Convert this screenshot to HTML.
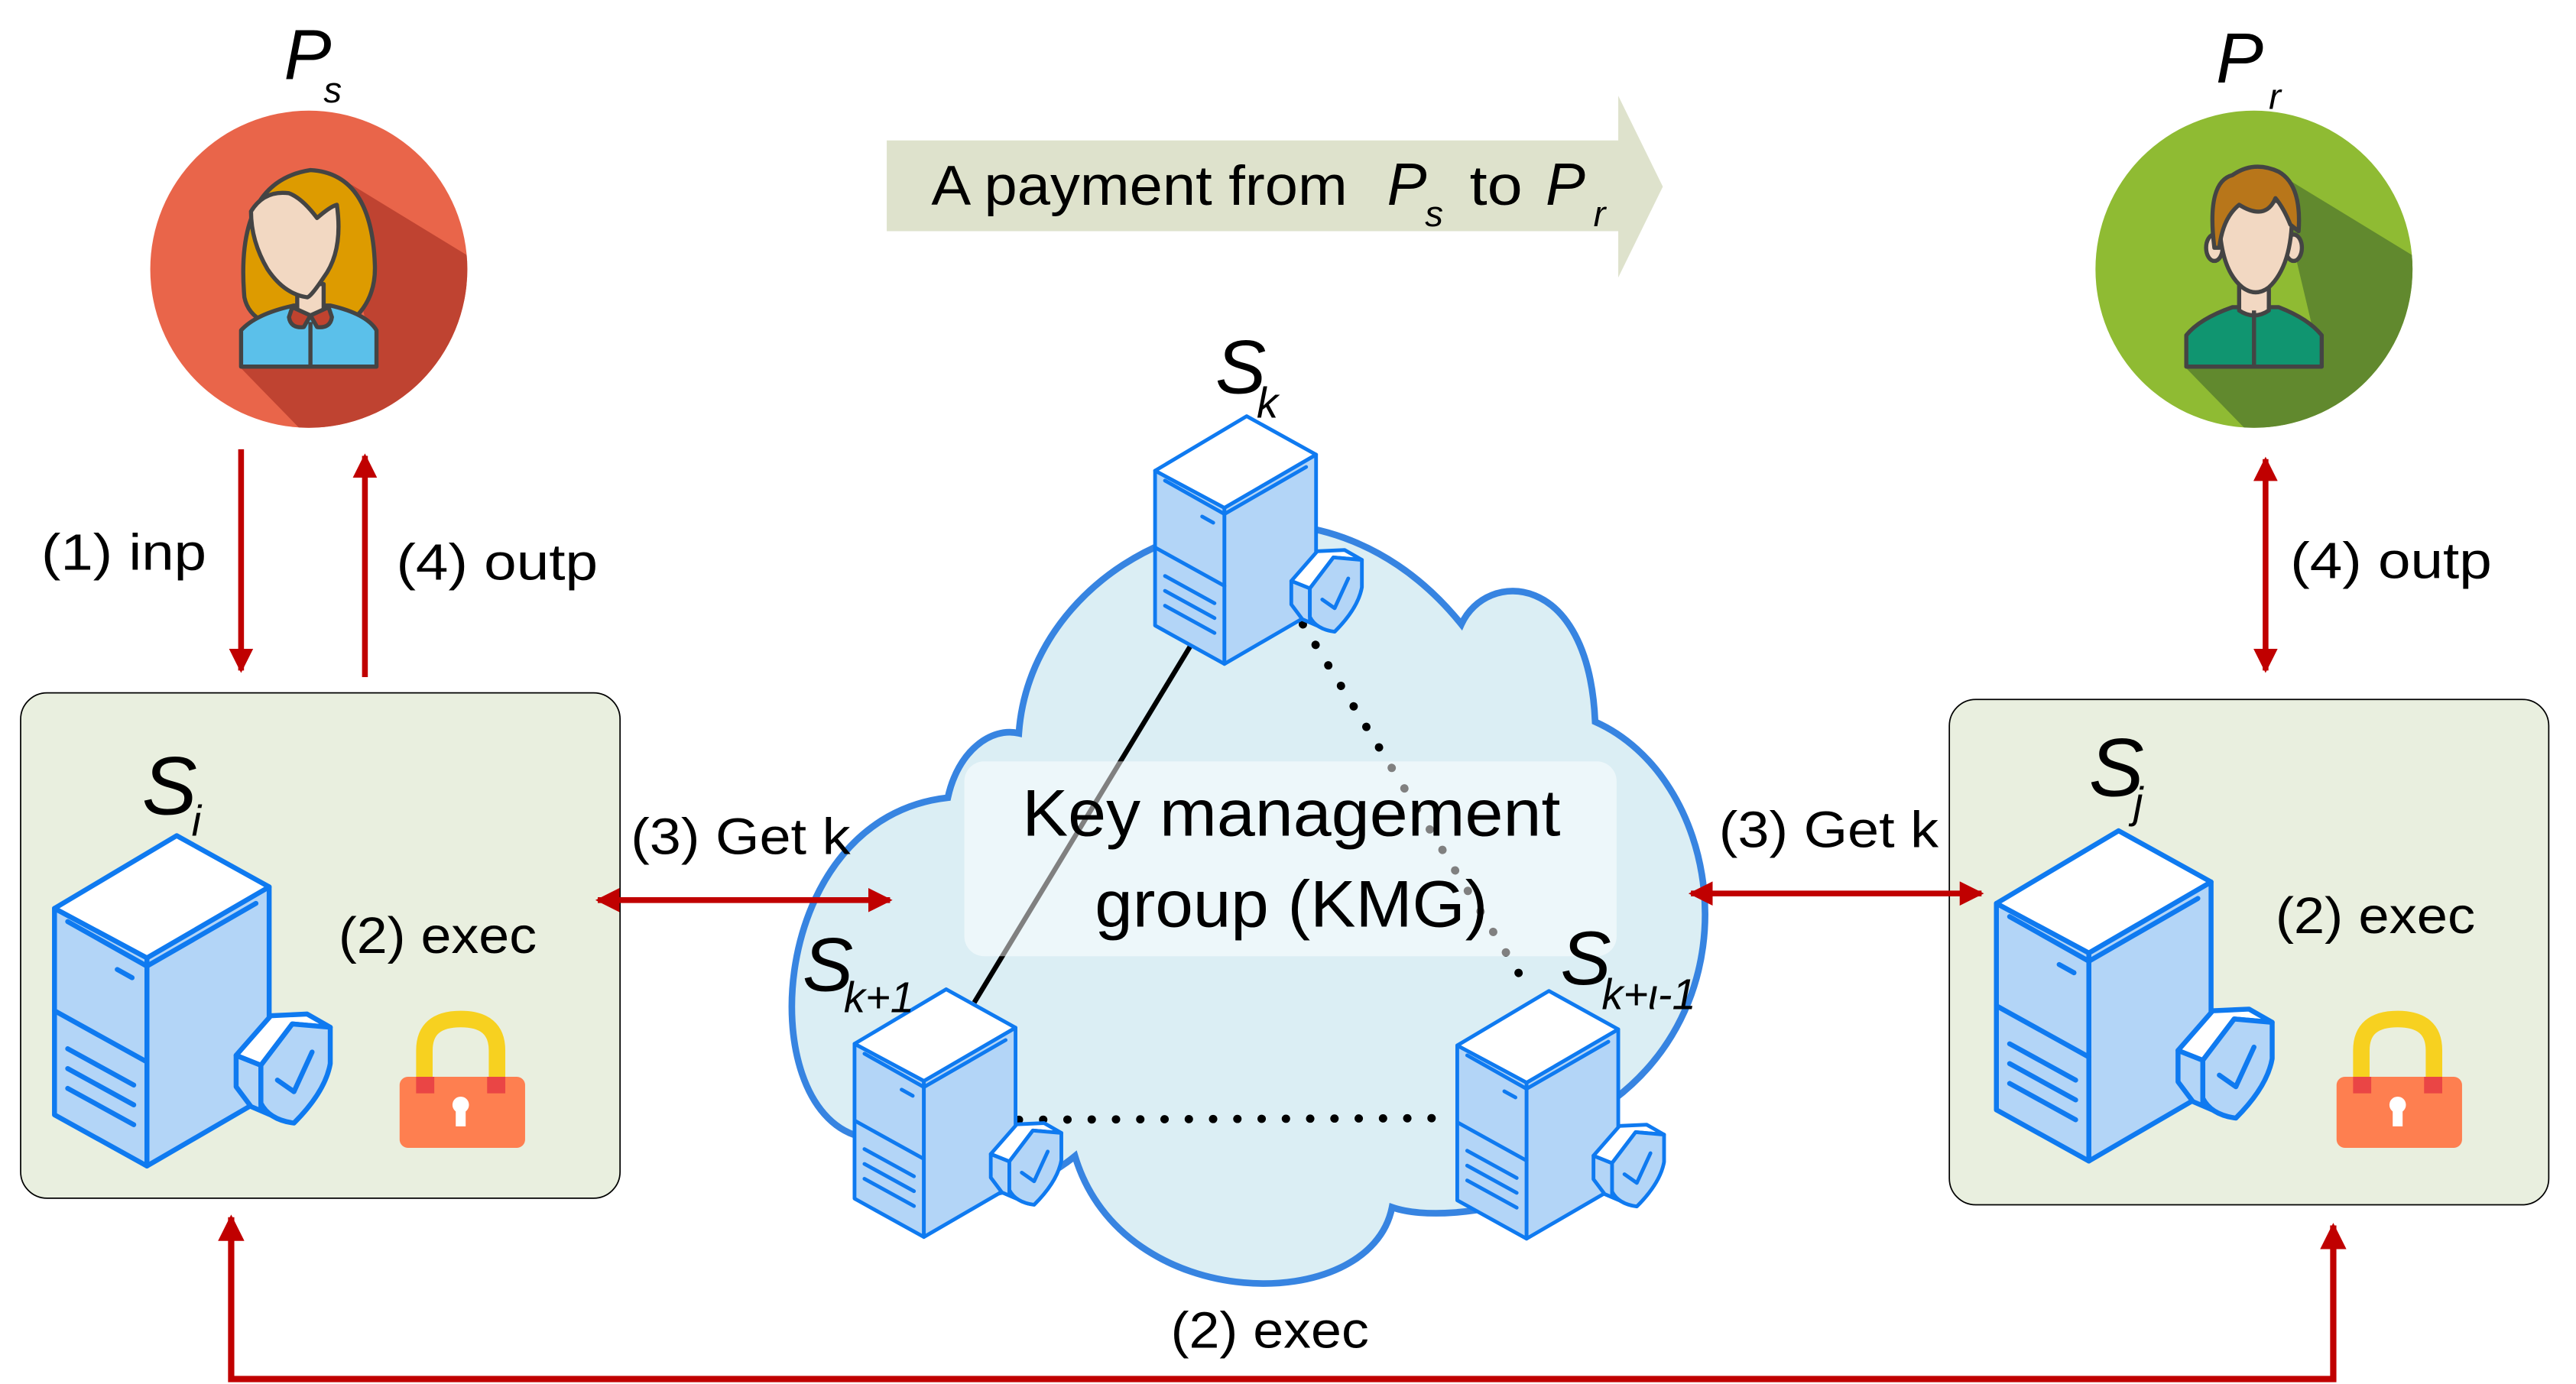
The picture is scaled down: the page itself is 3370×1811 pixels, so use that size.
<!DOCTYPE html>
<html><head><meta charset="utf-8"><style>
html,body{margin:0;padding:0;background:#fff;}
svg{display:block;}
text{font-family:"Liberation Sans",sans-serif;fill:#000;}
.it{font-style:italic;}
</style></head><body>
<svg width="3370" height="1811" viewBox="0 0 1560 838" preserveAspectRatio="none" xmlns="http://www.w3.org/2000/svg">
<defs>
<g id="srv" stroke="#0f7af0" stroke-width="3" stroke-linejoin="round" stroke-linecap="round">
  <polygon points="-74,44 -18,74 -18,200 -74,169" fill="#b3d5f7"/>
  <polygon points="-18,74 56,31 56,157 -18,200" fill="#b3d5f7"/>
  <polygon points="0,0 56,31 -18,74 -74,44" fill="#fff"/>
  <line x1="-66" y1="52" x2="-18" y2="79" fill="none"/>
  <line x1="-18" y1="79" x2="48" y2="41" fill="none"/>
  <line x1="-74" y1="106" x2="-18" y2="137" fill="none"/>
  <line x1="-36" y1="81" x2="-27" y2="86" fill="none"/>
  <line x1="-66" y1="129" x2="-26" y2="151" fill="none"/>
  <line x1="-66" y1="141" x2="-26" y2="163" fill="none"/>
  <line x1="-66" y1="153" x2="-26" y2="175" fill="none"/>
  <polygon points="36,133 51,139 51,165 66,173 45,164 36,152" fill="#b3d5f7"/>
  <polygon points="36,133 57,109 79,108 93,116 70,114 51,139" fill="#fff"/>
  <path d="M70,114 L93,116 L93,138 Q90,155 71,174 Q56,172 51,162 L51,139 Z" fill="#b3d5f7"/>
  <polyline points="61,148 71,155 82,131" fill="none"/>
</g>
<marker id="ah" viewBox="0 0 10 10" refX="9" refY="5" markerWidth="4.2" markerHeight="4.2" orient="auto-start-reverse" markerUnits="strokeWidth">
  <path d="M0,0 L10,5 L0,10 Z" fill="#c00000"/>
</marker>
<clipPath id="cps"><circle cx="187" cy="163" r="96"/></clipPath>
<clipPath id="cpr"><circle cx="1365" cy="163" r="96"/></clipPath>
</defs>

<!-- Ps -->
<circle cx="187" cy="163" r="96" fill="#e9654a"/>
<polygon clip-path="url(#cps)" points="200,104 300,165 300,300 184,262 146,223 228,222" fill="#bf4331"/>
<g stroke="#444" stroke-width="2.5" stroke-linejoin="round">
  <path d="M148,180 Q142,110 188,103 Q225,105 227,160 Q228,182 212,195 L160,195 Q150,190 148,180Z" fill="#dd9b00"/>
  <path d="M146,222 L146,200 Q155,190 178,185 L200,185 Q222,190 228,200 L228,222 Z" fill="#5bc0ea"/>
  <path d="M180,172 L180,188 Q188,194 196,188 L196,172 Z" fill="#f2d8c2"/>
  <path d="M152,128 Q160,115 175,117 Q183,120 192,132 Q200,125 204,124 Q208,152 196,168 Q188,180 186,180 Q172,178 162,163 Q152,146 152,128 Z" fill="#f2d8c2"/>
  <path d="M177,186 L188,191 L184,198 Q176,199 175,192Z M199,186 L188,191 L192,198 Q200,199 201,192Z" fill="#c0432f"/>
  <line x1="188" y1="195" x2="188" y2="222"/>
</g>
<text class="it" x="172" y="48" font-size="43">P</text>
<text class="it" x="196" y="62" font-size="22">s</text>

<!-- Pr -->
<circle cx="1365" cy="163" r="96" fill="#8fbb33"/>
<polygon clip-path="url(#cpr)" points="1378,104 1478,165 1478,300 1362,262 1324,223 1406,222" fill="#61892e"/>
<g stroke="#444" stroke-width="2.5" stroke-linejoin="round">
  <path d="M1324,222 L1324,203 Q1332,193 1352,186 L1380,186 Q1398,193 1406,203 L1406,222 Z" fill="#109570"/>
  <path d="M1356,172 L1356,188 Q1365,194 1374,188 L1374,172 Z" fill="#f2d8c2"/>
  <ellipse cx="1341" cy="150" rx="5" ry="8" fill="#f2d8c2"/>
  <ellipse cx="1389" cy="150" rx="5" ry="8" fill="#f2d8c2"/>
  <path d="M1344,125 Q1343,162 1358,174 Q1366,180 1374,174 Q1389,160 1388,125 Q1366,115 1344,125 Z" fill="#f2d8c2"/>
  <path d="M1341,150 Q1336,110 1352,106 Q1365,97 1380,104 Q1394,112 1392,140 L1387,136 Q1383,126 1378,120 Q1372,134 1356,124 Q1346,132 1344,150 Z" fill="#b8761a"/>
  <line x1="1365" y1="188" x2="1365" y2="222"/>
</g>
<text class="it" x="1342" y="50" font-size="43">P</text>
<text class="it" x="1374" y="66" font-size="22">r</text>

<!-- banner arrow -->
<polygon points="537,85 980,85 980,58 1007,113 980,168 980,140 537,140" fill="#dee2cc"/>
<text x="564" y="124" font-size="34" textLength="252" lengthAdjust="spacingAndGlyphs">A payment from</text>
<text class="it" x="840" y="124" font-size="36">P</text>
<text class="it" x="863" y="137" font-size="22">s</text>
<text x="890" y="124" font-size="34" textLength="32" lengthAdjust="spacingAndGlyphs">to</text>
<text class="it" x="936" y="124" font-size="36">P</text>
<text class="it" x="965" y="137" font-size="22">r</text>

<!-- left vertical arrows -->
<line x1="146" y1="272" x2="146" y2="406" stroke="#c00000" stroke-width="3.5" marker-end="url(#ah)"/>
<line x1="221" y1="410" x2="221" y2="276" stroke="#c00000" stroke-width="3.5" marker-end="url(#ah)"/>
<text x="25" y="345" font-size="31" textLength="100" lengthAdjust="spacingAndGlyphs">(1) inp</text>
<text x="240" y="351" font-size="31" textLength="122" lengthAdjust="spacingAndGlyphs">(4) outp</text>
<!-- right vertical arrow -->
<line x1="1372" y1="278" x2="1372" y2="406" stroke="#c00000" stroke-width="3.5" marker-start="url(#ah)" marker-end="url(#ah)"/>
<text x="1387" y="350" font-size="31" textLength="122" lengthAdjust="spacingAndGlyphs">(4) outp</text>

<!-- boxes -->
<rect x="12.5" y="419.5" width="363" height="306" rx="16" fill="#e9efdf" stroke="#000" stroke-width="0.8"/>
<rect x="1180.5" y="423.5" width="363" height="306" rx="16" fill="#e9efdf" stroke="#000" stroke-width="0.8"/>

<!-- cloud -->
<path d="M574,483 C580,455 600,440 617,444 C625,330 790,260 885,378 C900,345 962,345 966,437 C1040,470 1064,600 977,666 C985,722 880,744 843,731 C830,797 680,797 651,700 C600,742 520,724 520,688 C455,670 465,495 574,483 Z" fill="#dbeef4" stroke="#3784e1" stroke-width="4"/>
<!-- connectors -->
<line x1="721" y1="391" x2="590" y2="607" stroke="#000" stroke-width="3"/>
<line x1="789" y1="378" x2="927" y2="601" stroke="#000" stroke-width="5" stroke-dasharray="0.1 14.5" stroke-linecap="round"/>
<line x1="617" y1="678" x2="880" y2="677" stroke="#000" stroke-width="5" stroke-dasharray="0.1 14.6" stroke-linecap="round"/>
<rect x="584" y="461" width="395" height="118" rx="12" fill="#ffffff" fill-opacity="0.5"/>
<text x="782" y="506" font-size="40" text-anchor="middle" textLength="326" lengthAdjust="spacingAndGlyphs">Key management</text>
<text x="782" y="561" font-size="40" text-anchor="middle" textLength="238" lengthAdjust="spacingAndGlyphs">group (KMG)</text>

<!-- servers -->
<use href="#srv" transform="translate(107,506)"/>
<use href="#srv" transform="translate(1283,503)"/>
<use href="#srv" transform="translate(755,252) scale(0.75)"/>
<use href="#srv" transform="translate(573,599) scale(0.75)"/>
<use href="#srv" transform="translate(938,600) scale(0.75)"/>

<!-- server labels -->
<text class="it" x="86" y="493" font-size="50">S</text>
<text class="it" x="116" y="506" font-size="26">i</text>
<text class="it" x="1265" y="482" font-size="50">S</text>
<text class="it" x="1292" y="495" font-size="26">j</text>
<text class="it" x="736" y="238" font-size="46">S</text>
<text class="it" x="761" y="253" font-size="26">k</text>
<text class="it" x="486" y="600" font-size="46">S</text>
<text class="it" x="511" y="613" font-size="26">k+1</text>
<text class="it" x="945" y="596" font-size="46">S</text>
<text class="it" x="970" y="611" font-size="26">k+ι-1</text>

<!-- exec labels -->
<text x="205" y="577" font-size="31" textLength="120" lengthAdjust="spacingAndGlyphs">(2) exec</text>
<text x="1378" y="565" font-size="31" textLength="121" lengthAdjust="spacingAndGlyphs">(2) exec</text>

<!-- locks -->
<g>
  <path d="M257,652 L257,636 Q257,617 279,617 Q301,617 301,636 L301,652" fill="none" stroke="#f7d120" stroke-width="10"/>
  <rect x="242" y="652" width="76" height="43" rx="5" fill="#fe7f50"/>
  <rect x="252" y="652" width="11" height="10" fill="#ea4545"/>
  <rect x="295" y="652" width="11" height="10" fill="#ea4545"/>
  <circle cx="279" cy="669" r="5" fill="#fff"/>
  <rect x="276" y="670" width="6" height="12" fill="#fff"/>
</g>
<g transform="translate(1173,0)">
  <path d="M257,652 L257,636 Q257,617 279,617 Q301,617 301,636 L301,652" fill="none" stroke="#f7d120" stroke-width="10"/>
  <rect x="242" y="652" width="76" height="43" rx="5" fill="#fe7f50"/>
  <rect x="252" y="652" width="11" height="10" fill="#ea4545"/>
  <rect x="295" y="652" width="11" height="10" fill="#ea4545"/>
  <circle cx="279" cy="669" r="5" fill="#fff"/>
  <rect x="276" y="670" width="6" height="12" fill="#fff"/>
</g>

<!-- get k arrows -->
<line x1="362" y1="545" x2="539" y2="545" stroke="#c00000" stroke-width="3.5" marker-start="url(#ah)" marker-end="url(#ah)"/>
<text x="382" y="517" font-size="31" textLength="133" lengthAdjust="spacingAndGlyphs">(3) Get k</text>
<line x1="1024" y1="541" x2="1200" y2="541" stroke="#c00000" stroke-width="3.5" marker-start="url(#ah)" marker-end="url(#ah)"/>
<text x="1041" y="513" font-size="31" textLength="133" lengthAdjust="spacingAndGlyphs">(3) Get k</text>

<!-- bottom exec -->
<polyline points="140,737 140,835 1413,835 1413,742" fill="none" stroke="#c00000" stroke-width="3.8" marker-start="url(#ah)" marker-end="url(#ah)"/>
<text x="709" y="816" font-size="31" textLength="120" lengthAdjust="spacingAndGlyphs">(2) exec</text>
</svg>
</body></html>
